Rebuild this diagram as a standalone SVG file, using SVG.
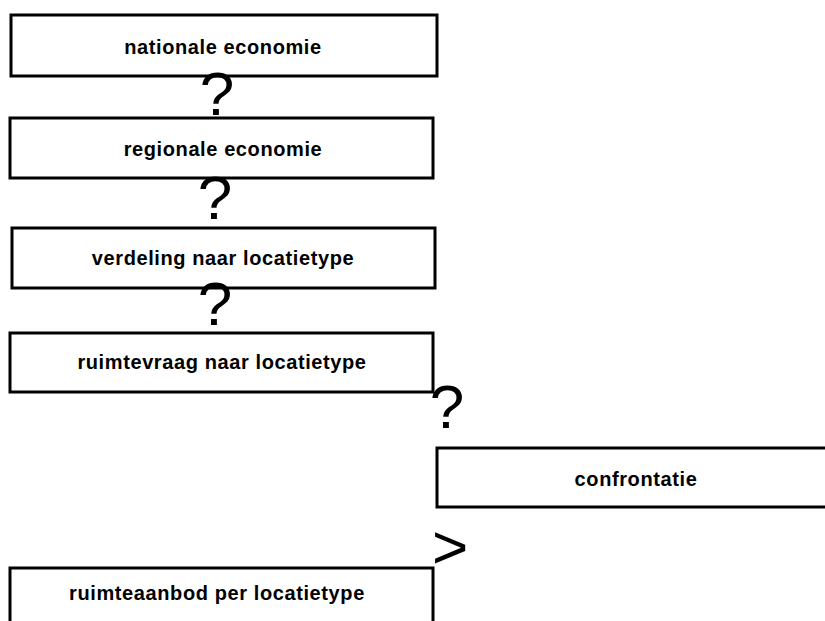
<svg xmlns="http://www.w3.org/2000/svg" width="825" height="621" viewBox="0 0 825 621">
<style>
.box{fill:#fff;stroke:#000;stroke-width:3}
.lbl{font-family:"Liberation Sans",Arial,sans-serif;font-weight:bold;font-size:20px;letter-spacing:0.6px;text-anchor:middle;fill:#000}
.sym{font-family:"Liberation Sans",Arial,sans-serif;font-size:62px;fill:#000}
</style>
<rect width="825" height="621" fill="#fff"/>
<g id="n1"><rect class="box" x="11" y="15" width="426" height="61"/><text class="lbl" x="223" y="54">nationale economie</text></g>
<g id="n2"><rect class="box" x="10" y="118" width="423" height="60"/><text class="lbl" x="223" y="156">regionale economie</text></g>
<g id="n3"><rect class="box" x="12" y="228" width="423" height="60"/><text class="lbl" x="223" y="265">verdeling naar locatietype</text></g>
<g id="n4"><rect class="box" x="10" y="333" width="423" height="59"/><text class="lbl" x="222" y="369">ruimtevraag naar locatietype</text></g>
<g id="n5"><rect class="box" x="437" y="448" width="400" height="59"/><text class="lbl" x="636" y="486">confrontatie</text></g>
<g id="n6"><rect class="box" x="10" y="568" width="423" height="70"/><text class="lbl" x="217" y="600">ruimteaanbod per locatietype</text></g>
<g id="connectors">
<text class="sym" x="217" y="115" text-anchor="middle">?</text>
<text class="sym" x="215" y="219" text-anchor="middle">?</text>
<text class="sym" x="215" y="325" text-anchor="middle">?</text>
<text class="sym" x="447" y="428" text-anchor="middle">?</text>
<text class="sym" x="432" y="568">&gt;</text>
</g>
</svg>
